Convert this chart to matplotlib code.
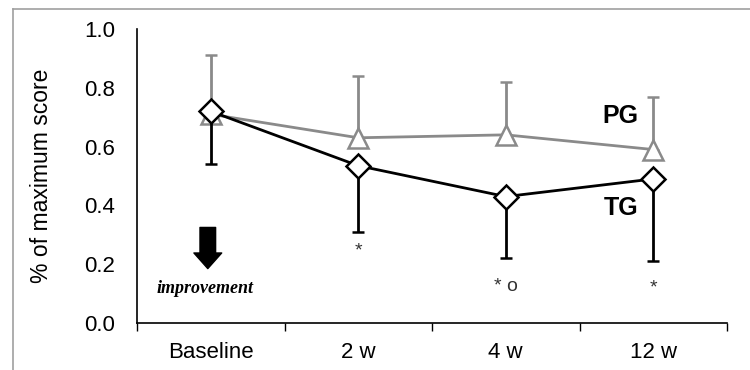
import matplotlib
matplotlib.use("Agg")
import matplotlib.pyplot as plt
from matplotlib.lines import Line2D

categories = ["Baseline", "2 w", "4 w", "12 w"]
pg_mean = [0.71, 0.63, 0.64, 0.59]
pg_upper = [0.91, 0.84, 0.82, 0.77]
tg_mean = [0.72, 0.535, 0.43, 0.49]
tg_lower = [0.54, 0.31, 0.22, 0.21]
sig_labels = ["", "*", "* o", "*"]
sig_y = [0.0, 0.245, 0.125, 0.12]

plt.rcParams['font.family'] = ['Liberation Sans', 'DejaVu Sans']

fig = plt.figure(figsize=(7.5, 3.7), dpi=100)
ax = fig.add_axes([137/750, 1-323/370, (727-137)/750, (323-29)/370])

x = list(range(len(categories)))
pg_err = [[0]*4, [u - m for u, m in zip(pg_upper, pg_mean)]]
tg_err = [[m - l for m, l in zip(tg_mean, tg_lower)], [0]*4]

gray = '#8a8a8a'
ax.errorbar(x, pg_mean, yerr=pg_err, color=gray, lw=2.0, elinewidth=2.0,
            capsize=4, capthick=2.5, marker='^', ms=15, mfc='white',
            mec=gray, mew=1.8, zorder=2)
ax.errorbar(x, tg_mean, yerr=tg_err, color='black', lw=2.0, elinewidth=2.0,
            capsize=4, capthick=2.5, marker='D', ms=12, mfc='white',
            mec='black', mew=1.8, zorder=3)

ax.set_xlim(-0.5, 3.5)
ax.set_ylim(0, 1.0)
ax.set_yticks([0, 0.2, 0.4, 0.6, 0.8, 1.0])
ax.set_yticklabels(["0.0", "0.2", "0.4", "0.6", "0.8", "1.0"], fontsize=16)
ax.tick_params(axis='y', length=0, pad=16)
ax.set_xticks(x)
ax.set_xticklabels(categories, fontsize=16)
ax.tick_params(axis='x', which='major', length=0, pad=14)
ax.set_xticks([-0.5, 0.5, 1.5, 2.5, 3.5], minor=True)
ax.tick_params(axis='x', which='minor', length=6, width=1, direction='out')
for s in ['top', 'right']:
    ax.spines[s].set_visible(False)
for s in ['left', 'bottom']:
    ax.spines[s].set_linewidth(1.2)
ax.set_ylabel("% of maximum score", fontsize=16.5, labelpad=22)

for i, (lab, yy) in enumerate(zip(sig_labels, sig_y)):
    if lab:
        ax.text(i, yy, lab, ha='center', va='center', fontsize=14, color='#333333')

ax.text(2.78, 0.704, "PG", fontsize=18, fontweight='bold', ha='center', va='center')
ax.text(2.78, 0.39, "TG", fontsize=18, fontweight='bold', ha='center', va='center')

ax.annotate("", xy=(-0.02, 0.185), xytext=(-0.02, 0.325),
            arrowprops=dict(arrowstyle='simple,head_width=1.6,head_length=0.9,tail_width=0.9',
                            fc='black', ec='black', mutation_scale=12.5,
                            shrinkA=0, shrinkB=0))
ax.text(-0.04, 0.119, "improvement", fontsize=13, fontstyle='italic', fontweight='bold',
        family='Liberation Serif', ha='center', va='center')

# partial outer frame
fig.add_artist(Line2D([13/750, 13/750], [0, 1-9/370], transform=fig.transFigure,
                      color='#a0a0a0', lw=1.2))
fig.add_artist(Line2D([13/750, 1], [1-9/370, 1-9/370], transform=fig.transFigure,
                      color='#a0a0a0', lw=1.2))

fig.savefig("out.png", dpi=100)
